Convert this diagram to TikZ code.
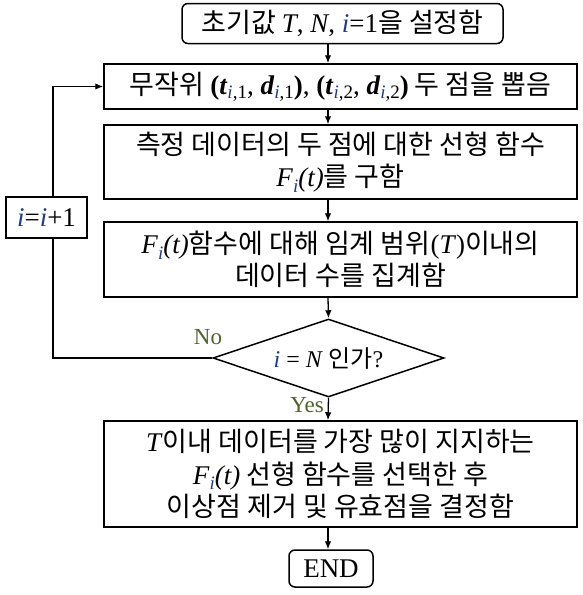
\documentclass[tikz,border=0pt]{standalone}
\usepackage{fontspec}
\setmainfont{Liberation Serif}
\newfontfamily\kr{Noto Sans CJK KR}
\usetikzlibrary{shapes.geometric,arrows.meta}

\definecolor{iblue}{HTML}{1F3A8A}
\definecolor{labgreen}{HTML}{4F6228}

% latin and math-like pieces set in the serif
\newcommand\tm[1]{{\rmfamily #1}}
\newcommand\vi{\textcolor{iblue}{\textit{i}}}
\newcommand\sbs[1]{\raisebox{-0.3ex}{\fontsize{19}{19}\selectfont #1}}
\newcommand\Fi{\tm{\textit{F}\raisebox{-0.45ex}{\fontsize{19}{19}\selectfont\vi}\textit{(t)}}}

\tikzset{
  stepbox/.style={draw, line width=1.5pt, minimum width=473pt, inner sep=0pt,
    align=center, font=\kr\fontsize{27}{32.5}\selectfont},
  endbox/.style={stepbox, rounded corners=6pt},
  flow/.style={line width=1.3pt, -{Latex[length=8pt,width=6.5pt]}},
  branch/.style={font=\rmfamily\fontsize{23}{23}\selectfont, text=labgreen}
}

\begin{document}
\begin{tikzpicture}[x=1pt,y=-1pt]
\useasboundingbox (0,0) rectangle (582,595);
\coordinate (spine) at (328,0);
\coordinate (loopx) at (53,0);

\node[endbox, minimum width=321pt, minimum height=40pt] (init) at (342.5,23.5)
  {초기값 \tm{\textit{T}, \textit{N}, \vi=1}을 설정함};
\node[stepbox, minimum height=45pt] (pick) at (340.5,86.5)
  {무작위 \tm{\textbf{(\textit{t}}\sbs{\vi,1}, \textbf{\textit{d}}\sbs{\vi,1}\textbf{)}, \textbf{(\textit{t}}\sbs{\vi,2}, \textbf{\textit{d}}\sbs{\vi,2}\textbf{)}} 두 점을 뽑음};
\node[stepbox, minimum height=74pt] (line) at (340.5,162)
  {측정 데이터의 두 점에 대한 선형 함수\\ \Fi 를 구함};
\node[stepbox, minimum height=75pt] (count) at (340.5,259.5)
  {\Fi 함수에 대해 임계 범위\tm{(\textit{T})}이내의\\ 데이터 수를 집계함};
\node[draw, diamond, aspect=3, line width=1.5pt, inner sep=0pt,
  minimum width=231pt, minimum height=78pt,
  font=\kr\fontsize{24}{28}\selectfont] (test) at (328.5,358)
  {\tm{\vi{} = \textit{N}} 인가\tm{?}};
\node[stepbox, minimum height=106pt] (pickbest) at (340.5,474)
  {\tm{\textit{T}}이내 데이터를 가장 많이 지지하는\\ \Fi{} 선형 함수를 선택한 후\\ 이상점 제거 및 유효점을 결정함};
\node[endbox, minimum width=84pt, minimum height=37pt] (end) at (331,568.5)
  {\tm{END}};
\node[stepbox, minimum width=81pt, minimum height=41pt] (incr) at (46.5,217.5)
  {\tm{\vi=\vi+1}};

\draw[flow] (init.south -| spine) -- (pick.north -| spine);
\draw[flow] (pick.south -| spine) -- (line.north -| spine);
\draw[flow] (line.south -| spine) -- (count.north -| spine);
\draw[flow] (count.south -| spine) -- (test.north);
\draw[flow] (test.south) -- (pickbest.north -| spine);
\draw[flow] (pickbest.south -| spine) -- (end.north -| spine);

% loop back
\draw[line width=1.3pt] (test.west) -| (incr.south -| loopx);
\draw[flow] (incr.north -| loopx) |- (pick.west);

\node[branch] (no) at (208,337) {No};
\node[branch] (yes) at (307,405) {Yes};
\end{tikzpicture}
\end{document}
